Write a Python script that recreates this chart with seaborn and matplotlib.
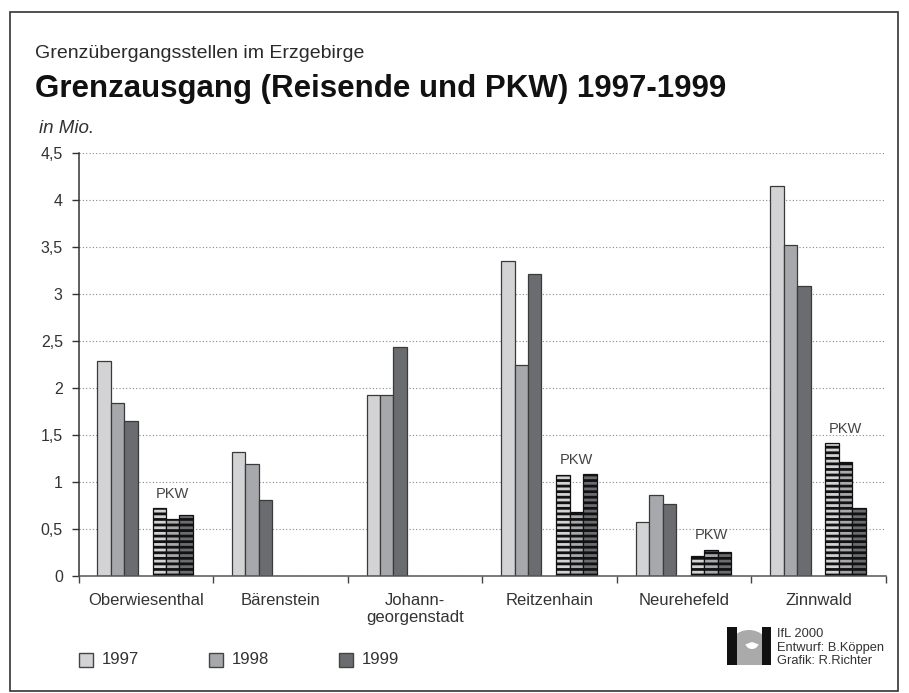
import numpy as np
import pandas as pd
import matplotlib
matplotlib.use("Agg")
import matplotlib.pyplot as plt
import seaborn as sns
from matplotlib.patches import Rectangle, Wedge
from matplotlib.transforms import IdentityTransform

# ---------------- data ----------------
cities = ["Oberwiesenthal", "Bärenstein", "Johann-\ngeorgenstadt",
          "Reitzenhain", "Neurehefeld", "Zinnwald"]
years = ["1997", "1998", "1999"]
reisende_1997 = [2.29, 1.32, 1.93, 3.35, 0.57, 4.15]
reisende_1998 = [1.84, 1.19, 1.93, 2.25, 0.86, 3.52]
reisende_1999 = [1.65, 0.81, 2.44, 3.21, 0.77, 3.08]
pkw_city_index = [0, 3, 4, 5]          # Oberwiesenthal, Reitzenhain, Neurehefeld, Zinnwald
pkw_1997 = [0.72, 1.07, 0.21, 1.41]
pkw_1998 = [0.61, 0.68, 0.28, 1.21]
pkw_1999 = [0.65, 1.08, 0.26, 0.72]
y_ticks = [0, 0.5, 1, 1.5, 2, 2.5, 3, 3.5, 4, 4.5]
y_tick_labels = ["0", "0,5", "1", "1,5", "2", "2,5", "3", "3,5", "4", "4,5"]
year_colors = ["#d3d3d5", "#a7a8ab", "#6b6c70"]

# ---------------- frames ----------------
R_OFF, P_OFF = 0.29, 0.70
rows_r = []
for vals, yr in zip([reisende_1997, reisende_1998, reisende_1999], years):
    for i, v in enumerate(vals):
        rows_r.append({"pos": round(i + R_OFF, 3), "value": v, "year": yr})
df_r = pd.DataFrame(rows_r)
rows_p = []
for vals, yr in zip([pkw_1997, pkw_1998, pkw_1999], years):
    for i, v in zip(pkw_city_index, vals):
        rows_p.append({"pos": round(i + P_OFF, 3), "value": v, "year": yr})
df_p = pd.DataFrame(rows_p)

# ---------------- style ----------------
sns.set_style("ticks")
plt.rcParams["font.family"] = ["Liberation Sans", "DejaVu Sans"]
plt.rcParams["hatch.linewidth"] = 2.0
plt.rcParams["hatch.color"] = "#111111"

W, H = 909, 693
fig = plt.figure(figsize=(W / 100, H / 100), dpi=100)
ax = fig.add_axes([78.5 / W, 1 - 576 / H, (886 - 78.5) / W, (576 - 153) / H])

def fx(x):
    return x / W

def fy(y):
    return 1 - y / H

pal = dict(zip(years, year_colors))
sns.barplot(data=df_r, x="pos", y="value", hue="year", hue_order=years,
            palette=pal, native_scale=True, width=0.3, dodge=True,
            saturation=1, errorbar=None, edgecolor="#3a3a3a", linewidth=0.9,
            legend=False, ax=ax)
n0 = len(ax.patches)
sns.barplot(data=df_p, x="pos", y="value", hue="year", hue_order=years,
            palette=pal, native_scale=True, width=0.3, dodge=True,
            saturation=1, errorbar=None, edgecolor="#111111", linewidth=0.9,
            legend=False, ax=ax)
for p in ax.patches[n0:]:
    p.set_hatch("---")
    p.set_edgecolor("#111111")

# PKW labels
for j, i in enumerate(pkw_city_index):
    top = max(pkw_1997[j], pkw_1998[j], pkw_1999[j])
    ax.text(i + P_OFF, top + 0.08, "PKW", ha="center", va="bottom",
            fontsize=10.5, color="#444444")

# axes formatting
ax.set_xlim(0, 6)
ax.set_ylim(0, 4.5)
ax.set_xlabel("")
ax.set_ylabel("")
ax.set_yticks(y_ticks)
ax.set_yticklabels(y_tick_labels)
ax.set_xticks(range(7))
ax.set_xticklabels([""] * 7)
ax.set_xticks([i + 0.5 for i in range(6)], minor=True)
ax.set_xticklabels(cities, minor=True)
ax.tick_params(axis="x", which="major", direction="out", length=5,
               width=1, color="#444444")
ax.tick_params(axis="x", which="minor", length=0, pad=12, labelsize=12,
               labelcolor="#333333")
ax.tick_params(axis="y", direction="out", length=5.3, width=1,
               color="#333333", pad=6, labelsize=11.5, labelcolor="#333333")
for s in ["top", "right"]:
    ax.spines[s].set_visible(False)
ax.spines["left"].set_color("#333333")
ax.spines["left"].set_linewidth(1.1)
ax.spines["bottom"].set_color("#555555")
ax.spines["bottom"].set_linewidth(1.1)
ax.yaxis.grid(True, linestyle=(0, (1, 2)), color="#888888", linewidth=0.8)
ax.xaxis.grid(False)
ax.set_axisbelow(True)

# ---------------- titles ----------------
fig.text(fx(35), fy(58), "Grenzübergangsstellen im Erzgebirge",
         fontsize=14, color="#2a2a2a", va="baseline", ha="left")
fig.text(fx(35), fy(97), "Grenzausgang (Reisende und PKW) 1997-1999",
         fontsize=22.5, fontweight="bold", color="#111111", va="baseline",
         ha="left")
fig.text(fx(39), fy(133), "in Mio.", fontsize=13.5, style="italic",
         color="#333333", va="baseline", ha="left")

# ---------------- legend ----------------
leg_x = [79, 209, 339]
for x0, yr, c in zip(leg_x, years, year_colors):
    fig.add_artist(Rectangle((fx(x0), fy(667)), 14 / W, 14 / H,
                             facecolor=c, edgecolor="#444444", linewidth=1,
                             transform=fig.transFigure))
    fig.text(fx(x0 + 23), fy(660), yr, fontsize=12, color="#333333",
             va="center", ha="left")

# ---------------- credits & logo ----------------
for k, line in enumerate(["IfL 2000", "Entwurf: B.Köppen", "Grafik: R.Richter"]):
    fig.text(fx(777), fy(634 + 13.5 * k), line, fontsize=9.3,
             color="#333333", va="center", ha="left")
idt = IdentityTransform()
fig.add_artist(Wedge((749, H - 652), 22, 0, 180, facecolor="#aaaaaa",
                     edgecolor="none", transform=idt))
fig.add_artist(Rectangle((737, H - 665), 25, 13, facecolor="#aaaaaa",
                         edgecolor="none", transform=idt))
fig.add_artist(Wedge((752, H - 642), 7, 200, 340, facecolor="white",
                     edgecolor="none", transform=idt))
fig.add_artist(Rectangle((727, H - 665), 10, 38, facecolor="#111111",
                         edgecolor="none", transform=idt))
fig.add_artist(Rectangle((762, H - 665), 9, 38, facecolor="#111111",
                         edgecolor="none", transform=idt))

# ---------------- frame ----------------
fig.add_artist(Rectangle((fx(10), fy(691)), (898 - 10) / W, (691 - 12) / H,
                         fill=False, edgecolor="#333333", linewidth=1.2,
                         transform=fig.transFigure))

fig.savefig("out.png", dpi=100)
